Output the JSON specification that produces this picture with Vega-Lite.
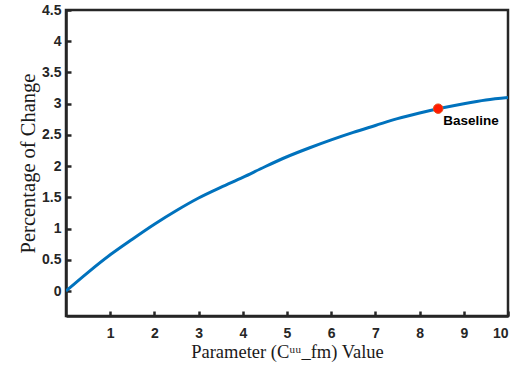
{
  "$schema": "https://vega.github.io/schema/vega-lite/v6.json",
  "width": 442,
  "height": 306,
  "autosize": "none",
  "padding": {"left": 66, "top": 10, "right": 23, "bottom": 55},
  "background": "white",
  "config": {
    "view": {"stroke": "#262626", "strokeWidth": 2.5},
    "axis": {
      "grid": false,
      "domainColor": "#262626",
      "domainWidth": 2.5,
      "tickColor": "#262626",
      "tickWidth": 2.5,
      "tickSize": -5,
      "labelOverlap": false,
      "labelFont": "Liberation Sans",
      "labelFontWeight": "bold",
      "labelFontSize": 14,
      "labelColor": "#262626",
      "titleFont": "Liberation Serif",
      "titleFontWeight": "normal",
      "titleColor": "#1a1a1a"
    }
  },
  "datasets": {
    "curve": [
      {"x": 0, "y": 0},
      {"x": 0.5, "y": 0.3},
      {"x": 1, "y": 0.58},
      {"x": 1.5, "y": 0.83},
      {"x": 2, "y": 1.07},
      {"x": 2.5, "y": 1.29},
      {"x": 3, "y": 1.49},
      {"x": 3.5, "y": 1.66},
      {"x": 4, "y": 1.82},
      {"x": 4.5, "y": 1.99},
      {"x": 5, "y": 2.15},
      {"x": 5.5, "y": 2.29},
      {"x": 6, "y": 2.42},
      {"x": 6.5, "y": 2.54},
      {"x": 7, "y": 2.65},
      {"x": 7.5, "y": 2.76},
      {"x": 8, "y": 2.85},
      {"x": 8.5, "y": 2.93},
      {"x": 9, "y": 3.0},
      {"x": 9.5, "y": 3.06},
      {"x": 10, "y": 3.1}
    ],
    "baseline": [{"x": 8.42, "y": 2.92, "label": "Baseline"}]
  },
  "encoding": {
    "x": {
      "field": "x", "type": "quantitative",
      "scale": {"domain": [0, 10], "nice": false, "zero": false},
      "axis": {
        "values": [1, 2, 3, 4, 5, 6, 7, 8, 9, 10],
        "labelPadding": 15,
        "title": "Parameter (Cᵘᵘ_fm) Value",
        "titleFontSize": 18.5,
        "titleX": 221,
        "titleY": 35,
        "titleAlign": "center",
        "titleBaseline": "middle"
      }
    },
    "y": {
      "field": "y", "type": "quantitative",
      "scale": {"domain": [-0.4, 4.5], "nice": false, "zero": false},
      "axis": {
        "values": [0, 0.5, 1, 1.5, 2, 2.5, 3, 3.5, 4, 4.5],
        "labelExpr": "format(datum.value, '.1~f')",
        "labelOverlap": false,
        "labelPadding": 10,
        "title": "Percentage of Change",
        "titleFontSize": 20.5,
        "titleX": -38,
        "titleY": 153,
        "titleAngle": -90,
        "titleAlign": "center",
        "titleBaseline": "middle"
      }
    }
  },
  "layer": [
    {
      "data": {"name": "curve"},
      "mark": {"type": "line", "color": "#0072BD", "strokeWidth": 3, "interpolate": "monotone", "clip": true}
    },
    {
      "data": {"name": "baseline"},
      "mark": {"type": "point", "filled": true, "fill": "#FF1A00", "stroke": "#E8501A", "strokeWidth": 1, "size": 90, "opacity": 1}
    },
    {
      "data": {"name": "baseline"},
      "mark": {"type": "text", "align": "left", "baseline": "middle", "dx": 5, "dy": 12, "font": "Liberation Sans", "fontWeight": "bold", "fontSize": 13.5, "color": "#000000"},
      "encoding": {
        "text": {"field": "label"}
      }
    }
  ]
}
